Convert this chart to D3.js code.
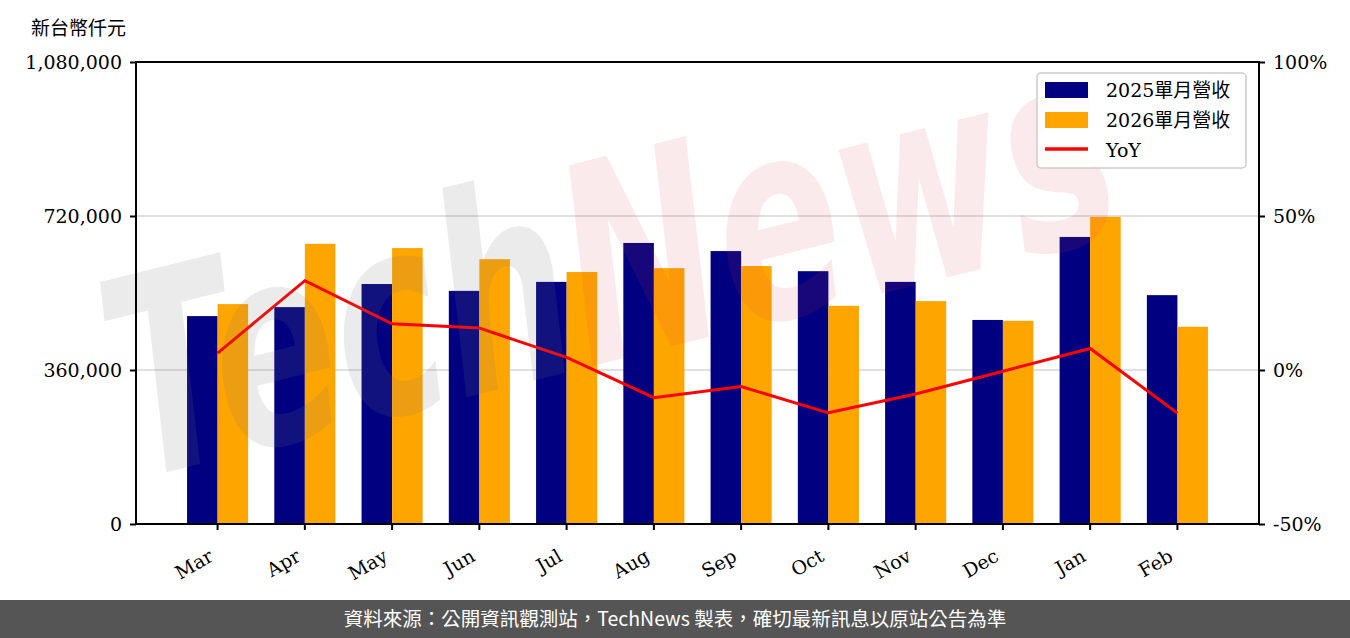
<!DOCTYPE html>
<html>
<head>
<meta charset="utf-8">
<script src="https://cdn.jsdelivr.net/npm/d3@7"></script>
<style>
	html, body { margin: 0; padding: 0; background: #fff; }
	svg { display: block; }
	text { font-family: "DejaVu Serif", "Noto Sans CJK TC", serif; }
</style>
</head>
<body>
<svg id="chart"></svg>
<script>
var months = ["Mar", "Apr", "May", "Jun", "Jul", "Aug", "Sep", "Oct", "Nov", "Dec", "Jan", "Feb"];
var rev2025 = [486000, 507000, 561000, 545000, 566000, 657000, 638000, 591000, 566000, 477000, 671000, 535000];
var rev2026 = [514000, 655000, 645000, 619000, 589000, 598000, 603000, 510000, 521000, 475000, 718000, 461000];
var yoy = [5.5, 29.0, 15.0, 13.6, 4.1, -9.0, -5.4, -13.9, -7.8, -0.4, 7.0, -14.0];
var leftTicks = [0, 360000, 720000, 1080000];
var rightTicks = [-50, 0, 50, 100];
var seriesNames = ["2025單月營收", "2026單月營收", "YoY"];

var width = 1350, height = 638;
var plotLeft = 136, plotRight = 1259, plotTop = 62, plotBottom = 524;
var fontSize = 19;

var svg = d3.select("#chart")
	.attr("width", width)
	.attr("height", height);

// 月份 band
var xScale = d3.scaleBand()
	.domain(months)
	.range([plotLeft, plotRight])
	.paddingInner(0.3)
	.paddingOuter(0.585);

var yLeft = d3.scaleLinear()
	.domain([0, 1080000])
	.range([plotBottom, plotTop]);

var yRight = d3.scaleLinear()
	.domain([-50, 100])
	.range([plotBottom, plotTop]);

// 格線
svg.append("g")
	.selectAll("line")
	.data(leftTicks.filter(function(d){ return d > 0 && d < 1080000; }))
	.enter().append("line")
		.attr("x1", plotLeft)
		.attr("x2", plotRight)
		.attr("y1", function(d){ return yLeft(d); })
		.attr("y2", function(d){ return yLeft(d); })
		.style("stroke", "#d6d6d6")
		.style("stroke-width", "1.5px");

// bars
var half = xScale.bandwidth() / 2;
var bars = svg.append("g");
bars.selectAll("rect.b25")
	.data(rev2025)
	.enter().append("rect")
		.attr("class", "b25")
		.attr("x", function(d, i){ return xScale(months[i]); })
		.attr("y", function(d){ return yLeft(d); })
		.attr("width", half)
		.attr("height", function(d){ return yLeft(0) - yLeft(d); })
		.style("fill", "#000080");
bars.selectAll("rect.b26")
	.data(rev2026)
	.enter().append("rect")
		.attr("class", "b26")
		.attr("x", function(d, i){ return xScale(months[i]) + half; })
		.attr("y", function(d){ return yLeft(d); })
		.attr("width", half)
		.attr("height", function(d){ return yLeft(0) - yLeft(d); })
		.style("fill", "#ffa500");

// YoY 線
var line = d3.line()
	.x(function(d, i){ return xScale(months[i]) + xScale.bandwidth() / 2; })
	.y(function(d){ return yRight(d); });

svg.append("path")
	.datum(yoy)
	.attr("d", line)
	.style("fill", "none")
	.style("stroke", "#ff0000")
	.style("stroke-width", "3px");

// 浮水印
var wm = svg.append("g")
	.attr("transform", "translate(135,480) rotate(-14) scale(0.67,1)")
	.style("pointer-events", "none");
var wmText = wm.append("text")
	.style("font-family", "DejaVu Sans")
	.style("font-style", "italic")
	.style("font-weight", "bold")
	.style("font-size", "275px");
wmText.append("tspan").text("Tech").style("fill", "rgba(120,120,120,0.15)");
wmText.append("tspan").text("News").style("fill", "rgba(215,60,70,0.11)");

// 外框
svg.append("rect")
	.attr("x", plotLeft)
	.attr("y", plotTop)
	.attr("width", plotRight - plotLeft)
	.attr("height", plotBottom - plotTop)
	.style("fill", "none")
	.style("stroke", "#000")
	.style("stroke-width", "2px");

// 軸
var leftAxis = svg.append("g")
	.attr("transform", "translate(" + plotLeft + ",0)")
	.call(d3.axisLeft(yLeft).tickValues(leftTicks).tickFormat(d3.format(",")).tickSize(6).tickPadding(8));

var rightAxis = svg.append("g")
	.attr("transform", "translate(" + plotRight + ",0)")
	.call(d3.axisRight(yRight).tickValues(rightTicks).tickFormat(function(d){ return d + "%"; }).tickSize(6).tickPadding(8));

var bottomAxis = svg.append("g")
	.attr("transform", "translate(0," + plotBottom + ")")
	.call(d3.axisBottom(xScale).tickSize(6).tickFormat(""));

[leftAxis, rightAxis, bottomAxis].forEach(function(ax){
	ax.select(".domain").remove();
	ax.selectAll(".tick line").style("stroke", "#000").style("stroke-width", "2px");
	ax.selectAll(".tick text")
		.style("font-family", "DejaVu Serif")
		.style("font-size", fontSize + "px")
		.style("fill", "#000");
});

// 月份標籤 (旋轉)
svg.append("g")
	.selectAll("text")
	.data(months)
	.enter().append("text")
		.attr("transform", function(d){
			var x = xScale(d) + xScale.bandwidth() / 2 - 3;
			return "translate(" + x + ",560) rotate(-30)";
		})
		.attr("text-anchor", "end")
		.style("font-size", fontSize + "px")
		.style("fill", "#000")
		.text(function(d){ return d; });

// 單位
svg.append("text")
	.attr("x", 31)
	.attr("y", 35)
	.style("font-family", "Noto Sans CJK TC")
	.style("font-size", fontSize + "px")
	.style("fill", "#000")
	.text("新台幣仟元");

// legend
var legend = svg.append("g").attr("transform", "translate(1037,73)");
legend.append("rect")
	.attr("width", 209)
	.attr("height", 95)
	.attr("rx", 4)
	.style("fill", "rgba(255,255,255,0.85)")
	.style("stroke", "#cccccc")
	.style("stroke-width", "1.5px");
var legendColors = ["#000080", "#ffa500", "#ff0000"];
seriesNames.forEach(function(name, i){
	var cy = 17 + i * 30;
	if (i < 2) {
		legend.append("rect")
			.attr("x", 8)
			.attr("y", cy - 8)
			.attr("width", 43)
			.attr("height", 16)
			.style("fill", legendColors[i]);
	} else {
		legend.append("line")
			.attr("x1", 8)
			.attr("x2", 51)
			.attr("y1", cy - 1)
			.attr("y2", cy - 1)
			.style("stroke", legendColors[i])
			.style("stroke-width", "3.5px");
	}
	legend.append("text")
		.attr("x", 69)
		.attr("y", cy + 7)
		.style("font-size", fontSize + "px")
		.style("fill", "#000")
		.text(name);
});

// footer
svg.append("rect")
	.attr("x", 0)
	.attr("y", 600)
	.attr("width", width)
	.attr("height", height - 600)
	.style("fill", "#555555");
svg.append("text")
	.attr("x", width / 2)
	.attr("y", 626)
	.attr("text-anchor", "middle")
	.style("font-family", "Noto Sans CJK TC")
	.style("font-size", "19.5px")
	.style("fill", "#ffffff")
	.text("資料來源：公開資訊觀測站，TechNews 製表，確切最新訊息以原站公告為準");
</script>
</body>
</html>
